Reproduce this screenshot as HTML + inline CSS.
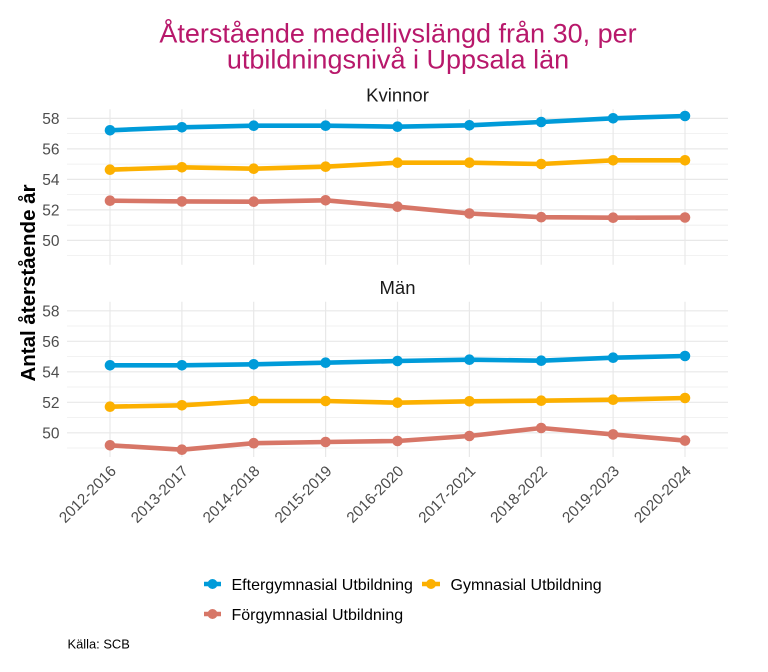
<!DOCTYPE html>
<html><head><meta charset="utf-8"><style>
html,body{margin:0;padding:0;background:#fff;}
svg{display:block;}
text{font-family:"Liberation Sans",Arial,sans-serif;}
</style></head><body>
<svg width="768" height="672" viewBox="0 0 768 672" xmlns="http://www.w3.org/2000/svg">
<rect width="768" height="672" fill="#fff"/>
<!-- Title -->
<text x="398" y="42.5" font-size="27" fill="#b8186b" text-anchor="middle">Återstående medellivslängd från 30, per</text>
<text x="398" y="68.5" font-size="27" fill="#b8186b" text-anchor="middle">utbildningsnivå i Uppsala län</text>

<!-- Strip labels -->
<text x="397.5" y="101.7" font-size="18.5" fill="#1a1a1a" text-anchor="middle">Kvinnor</text>
<text x="397.5" y="294" font-size="18.5" fill="#1a1a1a" text-anchor="middle">Män</text>

<!-- Top panel grid -->
<g stroke="#eeeeee" stroke-width="0.8">
<line x1="67" x2="728" y1="133.6" y2="133.6"/><line x1="67" x2="728" y1="164.1" y2="164.1"/>
<line x1="67" x2="728" y1="194.6" y2="194.6"/><line x1="67" x2="728" y1="225.2" y2="225.2"/>
<line x1="67" x2="728" y1="255.6" y2="255.6"/>
<line x1="67" x2="728" y1="326.0" y2="326.0"/><line x1="67" x2="728" y1="356.5" y2="356.5"/>
<line x1="67" x2="728" y1="387.0" y2="387.0"/><line x1="67" x2="728" y1="417.5" y2="417.5"/>
<line x1="67" x2="728" y1="448.0" y2="448.0"/>
</g>
<g stroke="#e8e8e8" stroke-width="1.2">
<line x1="67" x2="728" y1="118.4" y2="118.4"/><line x1="67" x2="728" y1="148.9" y2="148.9"/>
<line x1="67" x2="728" y1="179.4" y2="179.4"/><line x1="67" x2="728" y1="209.9" y2="209.9"/>
<line x1="67" x2="728" y1="240.4" y2="240.4"/>
<line x1="67" x2="728" y1="310.8" y2="310.8"/><line x1="67" x2="728" y1="341.3" y2="341.3"/>
<line x1="67" x2="728" y1="371.8" y2="371.8"/><line x1="67" x2="728" y1="402.3" y2="402.3"/>
<line x1="67" x2="728" y1="432.8" y2="432.8"/>
<g>
<line x1="110" x2="110" y1="109.3" y2="264.7"/><line x1="181.9" x2="181.9" y1="109.3" y2="264.7"/>
<line x1="253.7" x2="253.7" y1="109.3" y2="264.7"/><line x1="325.6" x2="325.6" y1="109.3" y2="264.7"/>
<line x1="397.5" x2="397.5" y1="109.3" y2="264.7"/><line x1="469.4" x2="469.4" y1="109.3" y2="264.7"/>
<line x1="541.2" x2="541.2" y1="109.3" y2="264.7"/><line x1="613.1" x2="613.1" y1="109.3" y2="264.7"/>
<line x1="685" x2="685" y1="109.3" y2="264.7"/>
<line x1="110" x2="110" y1="301.7" y2="457"/><line x1="181.9" x2="181.9" y1="301.7" y2="457"/>
<line x1="253.7" x2="253.7" y1="301.7" y2="457"/><line x1="325.6" x2="325.6" y1="301.7" y2="457"/>
<line x1="397.5" x2="397.5" y1="301.7" y2="457"/><line x1="469.4" x2="469.4" y1="301.7" y2="457"/>
<line x1="541.2" x2="541.2" y1="301.7" y2="457"/><line x1="613.1" x2="613.1" y1="301.7" y2="457"/>
<line x1="685" x2="685" y1="301.7" y2="457"/>
</g>
</g>

<!-- Y tick labels -->
<g font-size="15.5" fill="#4d4d4d" text-anchor="end">
<text x="59.5" y="124">58</text><text x="59.5" y="154.5">56</text><text x="59.5" y="185">54</text>
<text x="59.5" y="215.5">52</text><text x="59.5" y="246">50</text>
<text x="59.5" y="316.4">58</text><text x="59.5" y="346.9">56</text><text x="59.5" y="377.4">54</text>
<text x="59.5" y="407.9">52</text><text x="59.5" y="438.4">50</text>
</g>

<!-- Y axis title -->
<text transform="translate(35,283) rotate(-90)" font-size="20.5" font-weight="bold" fill="#000" text-anchor="middle">Antal återstående år</text>

<!-- Series: top panel -->
<g fill="none" stroke-width="4.6" stroke-linejoin="round" stroke-linecap="round">
<polyline stroke="#009bd9" points="110,130.3 181.9,127.3 253.7,125.7 325.6,125.7 397.5,126.7 469.4,125.3 541.2,122 613.1,118.3 685,116"/>
<polyline stroke="#fcb000" points="110,169.7 181.9,167.3 253.7,168.7 325.6,166.7 397.5,162.7 469.4,162.7 541.2,164 613.1,160.3 685,160.3"/>
<polyline stroke="#d77667" points="110,200.7 181.9,201.4 253.7,201.7 325.6,200.3 397.5,206.7 469.4,213.5 541.2,217.2 613.1,217.7 685,217.5"/>
<polyline stroke="#009bd9" points="110,365.3 181.9,365.3 253.7,364.3 325.6,362.7 397.5,361 469.4,359.7 541.2,360.7 613.1,357.7 685,356"/>
<polyline stroke="#fcb000" points="110,406.7 181.9,405.3 253.7,401 325.6,401 397.5,402.7 469.4,401.3 541.2,400.7 613.1,399.7 685,398"/>
<polyline stroke="#d77667" points="110,445.3 181.9,449.7 253.7,443.2 325.6,442 397.5,441 469.4,436 541.2,428 613.1,434.4 685,440.6"/>
</g>
<g fill="#009bd9">
<circle cx="110" cy="130.3" r="5.3"/><circle cx="181.9" cy="127.3" r="5.3"/><circle cx="253.7" cy="125.7" r="5.3"/><circle cx="325.6" cy="125.7" r="5.3"/><circle cx="397.5" cy="126.7" r="5.3"/><circle cx="469.4" cy="125.3" r="5.3"/><circle cx="541.2" cy="122" r="5.3"/><circle cx="613.1" cy="118.3" r="5.3"/><circle cx="685" cy="116" r="5.3"/>
<circle cx="110" cy="365.3" r="5.3"/><circle cx="181.9" cy="365.3" r="5.3"/><circle cx="253.7" cy="364.3" r="5.3"/><circle cx="325.6" cy="362.7" r="5.3"/><circle cx="397.5" cy="361" r="5.3"/><circle cx="469.4" cy="359.7" r="5.3"/><circle cx="541.2" cy="360.7" r="5.3"/><circle cx="613.1" cy="357.7" r="5.3"/><circle cx="685" cy="356" r="5.3"/>
</g>
<g fill="#fcb000">
<circle cx="110" cy="169.7" r="5.3"/><circle cx="181.9" cy="167.3" r="5.3"/><circle cx="253.7" cy="168.7" r="5.3"/><circle cx="325.6" cy="166.7" r="5.3"/><circle cx="397.5" cy="162.7" r="5.3"/><circle cx="469.4" cy="162.7" r="5.3"/><circle cx="541.2" cy="164" r="5.3"/><circle cx="613.1" cy="160.3" r="5.3"/><circle cx="685" cy="160.3" r="5.3"/>
<circle cx="110" cy="406.7" r="5.3"/><circle cx="181.9" cy="405.3" r="5.3"/><circle cx="253.7" cy="401" r="5.3"/><circle cx="325.6" cy="401" r="5.3"/><circle cx="397.5" cy="402.7" r="5.3"/><circle cx="469.4" cy="401.3" r="5.3"/><circle cx="541.2" cy="400.7" r="5.3"/><circle cx="613.1" cy="399.7" r="5.3"/><circle cx="685" cy="398" r="5.3"/>
</g>
<g fill="#d77667">
<circle cx="110" cy="200.7" r="5.3"/><circle cx="181.9" cy="201.4" r="5.3"/><circle cx="253.7" cy="201.7" r="5.3"/><circle cx="325.6" cy="200.3" r="5.3"/><circle cx="397.5" cy="206.7" r="5.3"/><circle cx="469.4" cy="213.5" r="5.3"/><circle cx="541.2" cy="217.2" r="5.3"/><circle cx="613.1" cy="217.7" r="5.3"/><circle cx="685" cy="217.5" r="5.3"/>
<circle cx="110" cy="445.3" r="5.3"/><circle cx="181.9" cy="449.7" r="5.3"/><circle cx="253.7" cy="443.2" r="5.3"/><circle cx="325.6" cy="442" r="5.3"/><circle cx="397.5" cy="441" r="5.3"/><circle cx="469.4" cy="436" r="5.3"/><circle cx="541.2" cy="428" r="5.3"/><circle cx="613.1" cy="434.4" r="5.3"/><circle cx="685" cy="440.6" r="5.3"/>
</g>

<!-- X tick labels -->
<g font-size="15.3" fill="#4d4d4d" text-anchor="end">
<text transform="translate(117,472) rotate(-45)">2012-2016</text>
<text transform="translate(188.9,472) rotate(-45)">2013-2017</text>
<text transform="translate(260.7,472) rotate(-45)">2014-2018</text>
<text transform="translate(332.6,472) rotate(-45)">2015-2019</text>
<text transform="translate(404.5,472) rotate(-45)">2016-2020</text>
<text transform="translate(476.4,472) rotate(-45)">2017-2021</text>
<text transform="translate(548.2,472) rotate(-45)">2018-2022</text>
<text transform="translate(620.1,472) rotate(-45)">2019-2023</text>
<text transform="translate(692,472) rotate(-45)">2020-2024</text>
</g>

<!-- Legend -->
<g stroke-width="4.6">
<line x1="204" x2="221" y1="584" y2="584" stroke="#009bd9"/>
<line x1="422" x2="440" y1="584" y2="584" stroke="#fcb000"/>
<line x1="204" x2="221" y1="614" y2="614" stroke="#d77667"/>
</g>
<circle cx="212.5" cy="584" r="5" fill="#009bd9"/>
<circle cx="431" cy="584" r="5" fill="#fcb000"/>
<circle cx="212.5" cy="614" r="5" fill="#d77667"/>
<g font-size="16" fill="#000">
<text x="231.5" y="589.8">Eftergymnasial Utbildning</text>
<text x="450.5" y="589.8">Gymnasial Utbildning</text>
<text x="231.5" y="619.8">Förgymnasial Utbildning</text>
</g>

<!-- Caption -->
<text x="67.5" y="648.5" font-size="12.9" fill="#000">Källa: SCB</text>
</svg>
</body></html>
